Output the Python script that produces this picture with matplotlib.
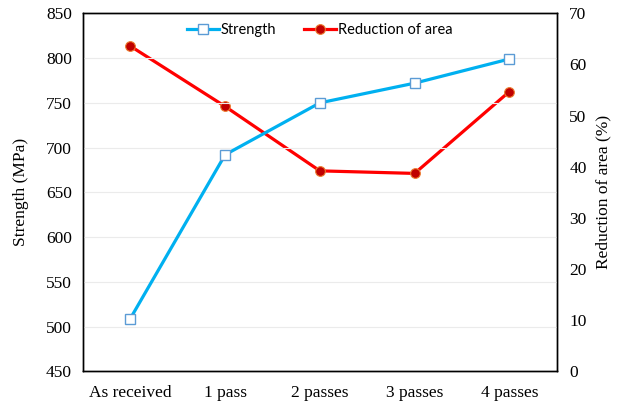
import matplotlib
matplotlib.use("Agg")
import matplotlib.pyplot as plt

categories = ["As received", "1 pass", "2 passes", "3 passes", "4 passes"]
strength = [509, 692, 750, 772, 799]
reduction = [63.6, 51.8, 39.2, 38.7, 54.7]

fig = plt.figure(figsize=(6.17, 4.05), dpi=100)
ax = fig.add_axes([0.1345, 0.0832, 0.9023 - 0.1345, 0.967 - 0.0832])
ax2 = ax.twinx()

serif = "Liberation Serif"
x = list(range(len(categories)))

l1, = ax.plot(x, strength, color="#00B0F0", lw=2.3, marker="s", ms=7,
              mfc="white", mec="#5B9BD5", mew=1.0, zorder=3, label="Strength")
l2, = ax2.plot(x, reduction, color="#FF0000", lw=2.3, marker="o", ms=7,
               mfc="#C00000", mec="#ED7D31", mew=0.8, zorder=3, label="Reduction of area")

ax.set_xlim(-0.5, len(categories) - 0.5)
ax.set_ylim(450, 850)
ax.set_yticks(range(450, 851, 50))
ax2.set_ylim(0, 70)
ax2.set_yticks(range(0, 71, 10))
ax.set_xticks(x)
ax.set_xticklabels(categories)

ax.grid(axis="y", color="#EBEBEB", lw=0.8)
ax.set_axisbelow(True)

for a in (ax, ax2):
    a.tick_params(length=0, labelsize=12.5, pad=8)
    for lab in a.get_xticklabels() + a.get_yticklabels():
        lab.set_fontfamily(serif)
    for s in a.spines.values():
        s.set_color("black")
        s.set_linewidth(1.0)
ax.tick_params(axis="x", pad=10)
ax2.tick_params(axis="y", pad=9)

ax.set_ylabel("Strength (MPa)", fontfamily=serif, fontsize=12.5, labelpad=12)
ax2.set_ylabel("Reduction of area (%)", fontfamily=serif, fontsize=12.5, labelpad=6)

ax.set_zorder(ax2.get_zorder() + 1)
ax.patch.set_visible(False)

leg = ax.legend(handles=[l1, l2], loc="upper center", bbox_to_anchor=(0.5, 1.01),
                ncol=2, frameon=False, prop={"family": "Lato", "size": 10.5},
                handlelength=2.2, handletextpad=0.1, columnspacing=1.9)

fig.savefig("out.png", dpi=100)
